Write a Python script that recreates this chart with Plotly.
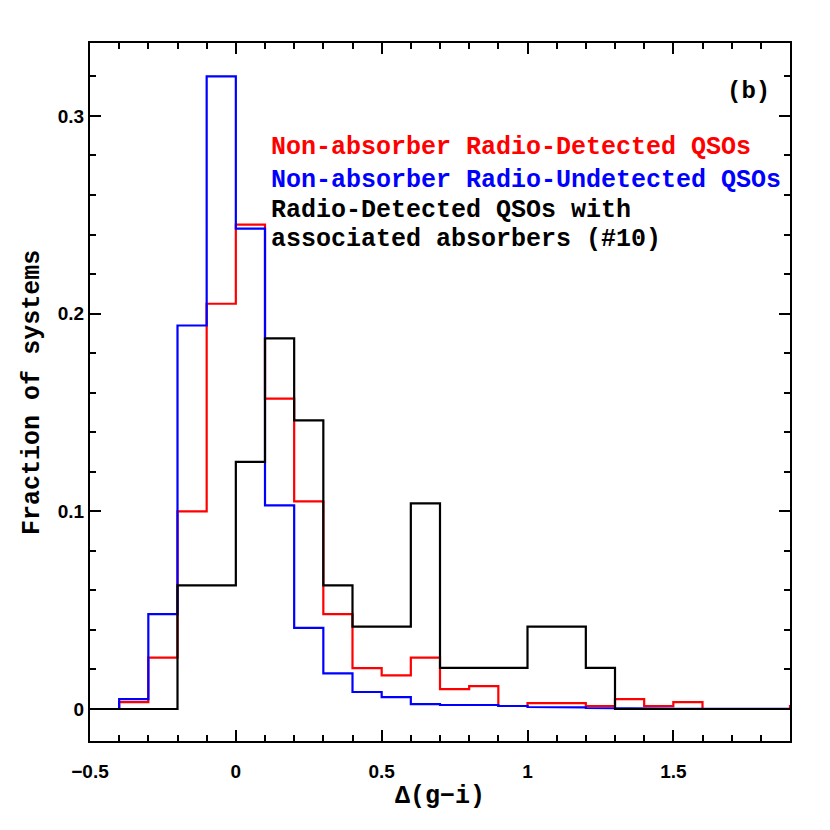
import numpy as np
import plotly.graph_objects as go

# bin edges of width 0.1 from -0.5 to 2.0
bin_edges = np.round(np.arange(-0.5, 2.01, 0.1), 2)

# Non-absorber Radio-Detected QSOs
red_vals = [0.0, 0.0035, 0.026, 0.100, 0.205, 0.245, 0.157, 0.105, 0.048, 0.0207,
            0.017, 0.026, 0.010, 0.0116, 0.0015, 0.003, 0.003, 0.0015, 0.005, 0.0015,
            0.0035, 0.0, 0.0, 0.0, 0.0015]
# Non-absorber Radio-Undetected QSOs
blue_vals = [0.0, 0.005, 0.048, 0.194, 0.320, 0.243, 0.103, 0.041, 0.018, 0.0086,
             0.006, 0.0025, 0.002, 0.002, 0.0015, 0.001, 0.0008, 0.0005, 0.0003, 0.0002,
             0.0001, 0.0, 0.0, 0.0, 0.0]
# Radio-Detected QSOs with associated absorbers
black_vals = [0.0, 0.0, 0.0, 0.0625, 0.0625, 0.125, 0.1875, 0.146, 0.0625, 0.0417,
              0.0417, 0.104, 0.0208, 0.0208, 0.0208, 0.0417, 0.0417, 0.0208, 0.0, 0.0,
              0.0, 0.0, 0.0, 0.0, 0.0]

legend_lines = [
    ("Non-absorber Radio-Detected QSOs", "#ff0000"),
    ("Non-absorber Radio-Undetected QSOs", "#0000ff"),
    ("Radio-Detected QSOs with", "black"),
    ("associated absorbers (#10)", "black"),
]

MONO = "Liberation Mono"
SANS = "Liberation Sans"


def step(vals):
    # outline of a histogram: each bin gives a flat segment from its left to right edge
    xs, ys = [], []
    for i, v in enumerate(vals):
        xs += [float(bin_edges[i]), float(bin_edges[i + 1])]
        ys += [v, v]
    return xs, ys


fig = go.Figure()
for vals, col in [(red_vals, "#ff0000"), (blue_vals, "#0000ff"), (black_vals, "black")]:
    xs, ys = step(vals)
    fig.add_trace(go.Scatter(x=xs, y=ys, mode="lines",
                             line=dict(color=col, width=2.2),
                             showlegend=False, hoverinfo="skip"))

axis_common = dict(
    showline=True, linecolor="black", linewidth=2, mirror="ticks",
    ticks="inside", ticklen=11, tickwidth=2, tickcolor="black",
    showgrid=False, zeroline=False,
    tickfont=dict(family=SANS, size=19, color="black", weight="bold"),
)

fig.update_xaxes(range=[-0.5, 1.9], dtick=0.5, tick0=0,
                 minor=dict(dtick=0.1, ticks="inside", ticklen=6, tickwidth=2, tickcolor="black", showgrid=False),
                 ticklabelstandoff=12, **axis_common)
fig.update_yaxes(range=[-0.0162, 0.3369], dtick=0.1, tick0=0,
                 minor=dict(dtick=0.02, ticks="inside", ticklen=6, tickwidth=2, tickcolor="black", showgrid=False),
                 ticklabelstandoff=0, **axis_common)

annotations = []
line_y = [0.8496, 0.8037, 0.7607, 0.7178]
for (txt, col), yy in zip(legend_lines, line_y):
    annotations.append(dict(text=txt, x=0.255, y=yy, xref="paper", yref="paper",
                            xanchor="left", yanchor="middle", showarrow=False,
                            font=dict(family=MONO, size=25, color=col, weight="bold")))
annotations.append(dict(text="(b)", x=0.94, y=0.93, xref="paper", yref="paper",
                        xanchor="center", yanchor="middle", showarrow=False,
                        font=dict(family=MONO, size=24, color="black", weight="bold")))
annotations.append(dict(text="Fraction of systems", x=-0.083, y=0.5, xref="paper", yref="paper",
                        textangle=-90, xanchor="center", yanchor="middle", showarrow=False,
                        font=dict(family=MONO, size=25, color="black", weight="bold")))
annotations.append(dict(text="Δ(g−i)", x=0.5, y=-0.079, xref="paper", yref="paper",
                        xanchor="center", yanchor="middle", showarrow=False,
                        font=dict(family=MONO, size=25, color="black", weight="bold")))

fig.update_layout(
    width=830, height=830,
    margin=dict(l=82, r=48, t=35, b=97),
    paper_bgcolor="white", plot_bgcolor="white",
    annotations=annotations,
)

fig.write_html("out.html")
